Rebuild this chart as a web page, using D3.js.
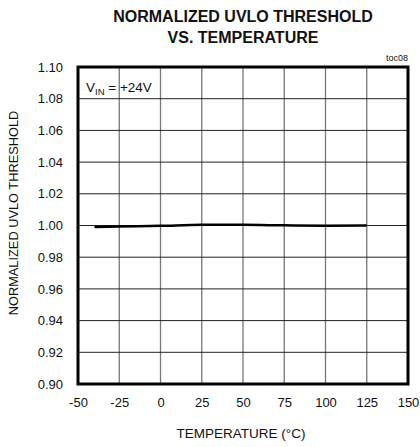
<!DOCTYPE html>
<html>
<head>
<meta charset="utf-8">
<script src="https://cdn.jsdelivr.net/npm/d3@7"></script>
<style>
  body { margin: 0; background: #fff; }
  text { font-family: "Liberation Sans", Arial, sans-serif; fill: #111; }
</style>
</head>
<body>
<svg id="chart" width="420" height="447"></svg>
<script>
// data
var temps = [-40, -25, 0, 25, 50, 75, 100, 125];
var uvlo = [0.9991, 0.9994, 0.9998, 1.0004, 1.0004, 1.0001, 0.9999, 1.0000];
var xTicks = [-50, -25, 0, 25, 50, 75, 100, 125, 150];
var yTicks = [0.90, 0.92, 0.94, 0.96, 0.98, 1.00, 1.02, 1.04, 1.06, 1.08, 1.10];

var svg = d3.select("#chart");
var plotL = 78, plotR = 408, plotT = 67, plotB = 384;

var x = d3.scaleLinear().domain([-50, 150]).range([plotL, plotR]);
var y = d3.scaleLinear().domain([0.90, 1.10]).range([plotB, plotT]);

// title
svg.append("text")
    .attr("x", 243).attr("y", 22)
    .attr("text-anchor", "middle")
    .style("font-weight", "bold").style("font-size", "16px")
    .text("NORMALIZED UVLO THRESHOLD");
svg.append("text")
    .attr("x", 243).attr("y", 43)
    .attr("text-anchor", "middle")
    .style("font-weight", "bold").style("font-size", "16px")
    .text("VS. TEMPERATURE");

// grid
svg.append("g").selectAll("line")
    .data(xTicks.slice(1, -1))
    .enter().append("line")
    .attr("x1", function(d) { return x(d); })
    .attr("x2", function(d) { return x(d); })
    .attr("y1", plotT).attr("y2", plotB)
    .attr("stroke", "#777").attr("stroke-width", 1.3);

svg.append("g").selectAll("line")
    .data(yTicks.slice(1, -1))
    .enter().append("line")
    .attr("x1", plotL).attr("x2", plotR)
    .attr("y1", function(d) { return y(d); })
    .attr("y2", function(d) { return y(d); })
    .attr("stroke", "#222").attr("stroke-width", 1);

// curve
var line = d3.line()
    .x(function(d, i) { return x(temps[i]); })
    .y(function(d) { return y(d); })
    .curve(d3.curveMonotoneX);
svg.append("path")
    .datum(uvlo)
    .attr("d", line)
    .attr("fill", "none")
    .attr("stroke", "#000")
    .attr("stroke-width", 2.5);

// frame
svg.append("rect")
    .attr("x", plotL).attr("y", plotT)
    .attr("width", plotR - plotL).attr("height", plotB - plotT)
    .attr("fill", "none").attr("stroke", "#000").attr("stroke-width", 3);

// tick labels
var xAxis = d3.axisBottom(x).tickValues(xTicks).tickSize(0).tickPadding(14)
    .tickFormat(function(d) { return String(d); });
var gx = svg.append("g").attr("transform", "translate(0," + plotB + ")").call(xAxis);
gx.select(".domain").remove();
gx.selectAll("text").style("font-size", "13px").style("font-family", "Liberation Sans, Arial, sans-serif").attr("fill", "#111");

var yAxis = d3.axisLeft(y).tickValues(yTicks).tickSize(0).tickPadding(15)
    .tickFormat(d3.format(".2f"));
var gy = svg.append("g").attr("transform", "translate(" + plotL + ",0)").call(yAxis);
gy.select(".domain").remove();
gy.selectAll("text").style("font-size", "13px").style("font-family", "Liberation Sans, Arial, sans-serif").attr("fill", "#111");

svg.append("text")
    .attr("x", 241).attr("y", 438)
    .attr("text-anchor", "middle")
    .style("font-size", "13.5px")
    .text("TEMPERATURE (°C)");

svg.append("text")
    .attr("transform", "translate(18,213) rotate(-90)")
    .attr("text-anchor", "middle")
    .style("font-size", "12.8px")
    .text("NORMALIZED UVLO THRESHOLD");

// annotations
var vin = svg.append("text")
    .attr("x", 86).attr("y", 92)
    .style("font-size", "13.5px");
vin.append("tspan").text("V");
vin.append("tspan").attr("dy", 3).style("font-size", "9.5px").text("IN");
vin.append("tspan").attr("dy", -3).text(" = +24V");

svg.append("text")
    .attr("x", 408).attr("y", 61)
    .attr("text-anchor", "end")
    .style("font-size", "9px")
    .text("toc08");
</script>
</body>
</html>
